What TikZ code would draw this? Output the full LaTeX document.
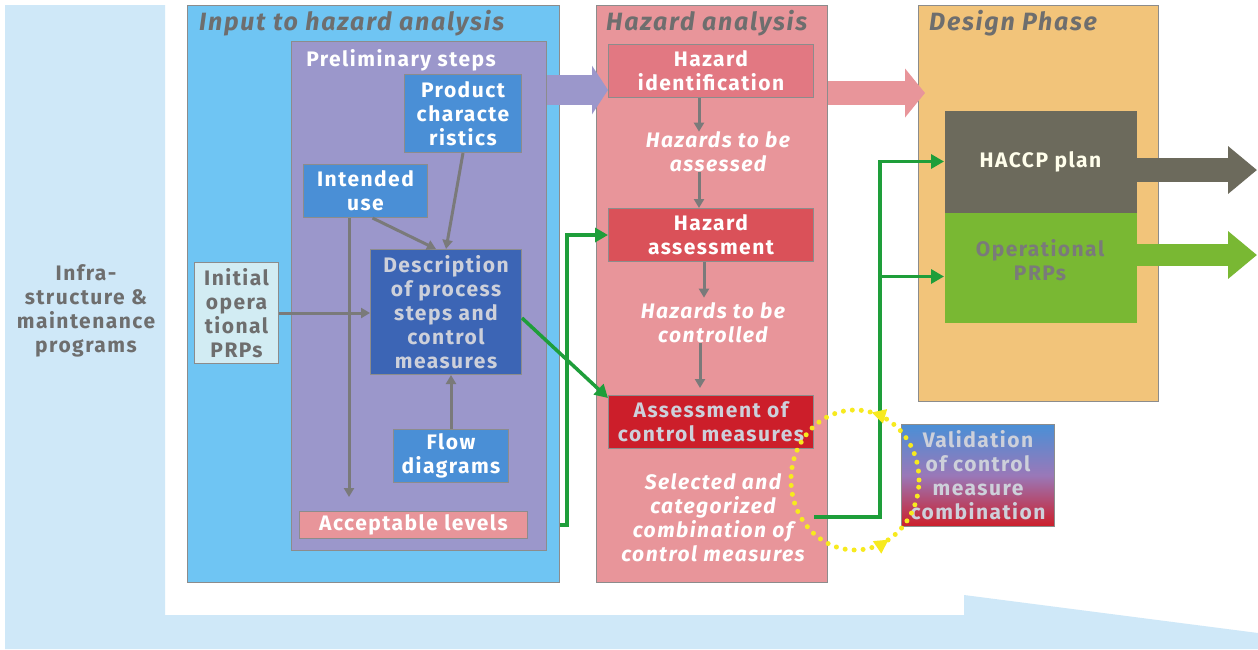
\documentclass[tikz,border=0pt]{standalone}
\usepackage{fontspec}
\setmainfont{Fira Sans}[LetterSpace=7]
\usetikzlibrary{arrows.meta,calc,decorations.markings}
\definecolor{bgblue}{HTML}{CFE8F8}
\definecolor{inblue}{HTML}{6FC5F3}
\definecolor{prpurple}{HTML}{9B97CB}
\definecolor{medblue}{HTML}{4A8FD6}
\definecolor{darkblue}{HTML}{3C65B5}
\definecolor{lightcyan}{HTML}{D2ECF3}
\definecolor{hzpink}{HTML}{E8959A}
\definecolor{hipink}{HTML}{E27882}
\definecolor{hared}{HTML}{DA5159}
\definecolor{acred}{HTML}{CC1E2A}
\definecolor{dsorange}{HTML}{F2C47A}
\definecolor{haccpgray}{HTML}{6C6A5C}
\definecolor{opgreen}{HTML}{79B833}
\definecolor{titlegray}{HTML}{6E6E6E}
\definecolor{arrowgray}{HTML}{7A7A7A}
\definecolor{bordergray}{HTML}{8C8C8C}
\definecolor{conngreen}{HTML}{1E9E3A}
\definecolor{dotyellow}{HTML}{F7EA1E}
\definecolor{softgray}{HTML}{CDD0DA}
\definecolor{valmid}{HTML}{9A78B8}
\newcommand\bodyfont{\fontsize{21}{24}\selectfont\bfseries}
\newcommand\titlefont{\fontsize{25}{28}\selectfont\bfseries\itshape}
\begin{document}
\begin{tikzpicture}[x=1pt,y=-1pt,
  box/.style={draw=bordergray, line width=1pt, inner sep=0pt, anchor=north west, align=center, font=\bodyfont},
  frame/.style={draw=bordergray, line width=1pt, anchor=north west, inner sep=0pt},
  titletext/.style={font=\titlefont, text=titlegray, anchor=west, inner sep=0pt},
  itext/.style={font=\bodyfont\itshape, text=white, align=center, inner sep=0pt},
  garrow/.style={draw=arrowgray, line width=3pt, -{Triangle[length=9pt,width=10pt]}},
  gline/.style={draw=conngreen, line width=3.5pt, -{Triangle[length=13pt,width=14pt]}},
  fatarrow/.style n args={3}{line width=#1, -{Triangle[length=#3,width=#2]}}
]
\useasboundingbox (0,0) rectangle (1258,649);
\fill[white] (0,0) rectangle (1258,649);
% background L-shaped arrow
\fill[bgblue] (5,5) -- (165,5) -- (165,615) -- (964,615) -- (964,595) -- (1258,633) -- (1258,649) -- (5,649) -- cycle;
\node[font=\bodyfont, text=titlegray, align=center] (infra) at (86,311) {Infra-\\structure \&\\maintenance\\programs};

% Input to hazard analysis
\node[frame, fill=inblue, minimum width=372pt, minimum height=577pt] (inp) at (187,5) {};
\node[titletext] (inpt) at (199,23) {Input to hazard analysis};
\node[frame, fill=prpurple, minimum width=255pt, minimum height=509pt] (prelim) at (291,41) {};
\node[font=\bodyfont, text=white, inner sep=0pt] (prelimt) at (401,60) {Preliminary steps};
\node[box, fill=medblue, text=white, minimum width=117pt, minimum height=78pt] (pc) at (404,74) {Product\\characte\\ristics};
\node[box, fill=medblue, text=white, minimum width=124pt, minimum height=53pt] (iu) at (303,164) {Intended\\use};
\node[box, fill=darkblue, text=softgray, minimum width=151pt, minimum height=125pt] (desc) at (370,249) {Description\\of process\\steps and\\control\\measures};
\node[box, fill=lightcyan, text=titlegray, minimum width=84pt, minimum height=101pt] (ip) at (194,262) {Initial\\opera\\tional\\PRPs};
\node[box, fill=medblue, text=white, minimum width=115pt, minimum height=53pt] (fd) at (393,429) {Flow\\diagrams};
\node[box, fill=hzpink, text=white, minimum width=228pt, minimum height=27pt] (al) at (299,511) {Acceptable levels};

% Hazard analysis
\node[frame, fill=hzpink, minimum width=231pt, minimum height=577pt] (hz) at (596,5) {};
\node[titletext] (hzt) at (606,23) {Hazard analysis};
\node[box, fill=hipink, text=white, minimum width=205pt, minimum height=53pt] (hi) at (608,44) {Hazard\\identification};
\node[itext] (hta) at (718,152) {Hazards to be\\assessed};
\node[box, fill=hared, text=white, minimum width=205pt, minimum height=53pt] (ha) at (608,208) {Hazard\\assessment};
\node[itext] (htc) at (713,323) {Hazards to be\\controlled};
\node[box, fill=acred, text=softgray, minimum width=205pt, minimum height=53pt] (ac) at (608,395) {Assessment of\\control measures};
\node[itext] (sel) at (713,518) {Selected and\\categorized\\combination of\\control measures};

% Design phase
\node[frame, fill=dsorange, minimum width=240pt, minimum height=396pt] (ds) at (918,5) {};
\node[titletext] (dst) at (929,23) {Design Phase};
\node[box, fill=haccpgray, draw=none, text=white!92!yellow, minimum width=192pt, minimum height=102pt] (haccp) at (944,110) {HACCP plan};
\node[box, fill=opgreen, draw=none, minimum width=192pt, minimum height=110pt] (op) at (944,212) {};
\node[font=\bodyfont, text=arrowgray, align=center, inner sep=0pt] (opt) at (1040,260) {Operational\\PRPs};

% Validation
\node[box, top color=medblue, bottom color=acred, middle color=valmid, text=softgray, minimum width=153pt, minimum height=102pt] (val) at (901,424) {Validation\\of control\\measure\\combination};

% big block arrows
\draw[prpurple, fatarrow={30pt}{48pt}{16pt}] (prelim.east |- 0,90) -- (hi.west |- 0,90);
\draw[hzpink, fatarrow={24pt}{48pt}{20pt}] (hz.east |- 0,93) -- ([xshift=7pt]ds.west |- 0,93);
\coordinate (haccpout) at (1257,170);
\coordinate (opout) at (1257,255);
\draw[haccpgray, fatarrow={24pt}{46pt}{29pt}] (haccp.east |- haccpout) -- (haccpout);
\draw[opgreen, fatarrow={22pt}{46pt}{29pt}] (op.east |- opout) -- (opout);

% gray arrows
\draw[garrow] (pc.south) -- (desc.north);
\draw[garrow] ([xshift=7pt]iu.south) -- ([xshift=-10pt]desc.north);
\coordinate (alin) at (349,497);
\draw[garrow] (iu.south -| alin) -- (alin);
\draw[garrow] (ip.east) -- (ip.east -| desc.west);
\draw[garrow] (fd.north) -- (fd.north |- desc.south);
\draw[garrow] (hi.south -| 699,0) -- (hta.north -| 699,0);
\draw[garrow] (hta.south -| 699,0) -- (ha.north -| 699,0);
\draw[garrow] (ha.south -| 704,0) -- ([yshift=5pt]htc.north -| 704,0);
\draw[garrow] (htc.south -| 700,0) -- ([yshift=7pt]ac.north -| 700,0);

% green connectors
\draw[gline] (inp.east |- al.east) -| ([xshift=-41pt]ha.west) -- (ha.west);
\draw[gline] ([yshift=-6pt]desc.east) -- ([yshift=24pt]ac.west);
\coordinate (selout) at (814,517);
\draw[gline] (selout) -| ([xshift=-64pt]haccp.west) -- (haccp.west);
\draw[gline] ([xshift=-64pt,yshift=-9pt]op.west) -- ([yshift=-9pt]op.west);

% yellow dotted cycle
\draw[dotyellow, line width=5pt, dash pattern=on 0pt off 9pt, line cap=round,
  postaction={decorate, decoration={markings,
    mark=at position 0.21 with {\arrow[solid]{Triangle[length=14pt,width=14pt]}},
    mark=at position 0.835 with {\arrow[solid]{Triangle[length=14pt,width=14pt]}}}}]
  (855,480) ellipse [x radius=64pt, y radius=70pt];
\end{tikzpicture}
\end{document}
